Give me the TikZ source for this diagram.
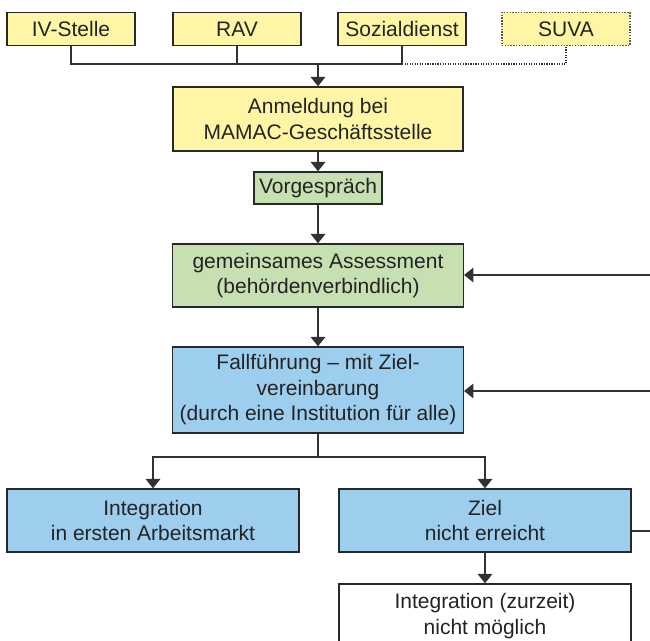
\documentclass[tikz,border=0pt]{standalone}
\usepackage{fontspec}
\setmainfont{Liberation Sans}
\usetikzlibrary{arrows.meta}

\tikzset{
  box/.style={draw={rgb, 255:red, 40; green, 40; blue, 40 }, line width=1.1pt, inner sep=0pt, align=center,
    text={rgb, 255:red, 35; green, 35; blue, 35 }, font=\fontsize{15.75}{19.1}\selectfont},
  yellowbox/.style={box, fill={rgb, 255:red, 255; green, 246; blue, 165 }},
  greenbox/.style={box, fill={rgb, 255:red, 198; green, 224; blue, 178 }},
  bluebox/.style={box, fill={rgb, 255:red, 158; green, 206; blue, 238 }},
  conn/.style={draw={rgb, 255:red, 50; green, 50; blue, 50 }, line width=0.9pt},
  arr/.style={conn, -{Triangle[width=11pt,length=7pt]}},
}

\begin{document}
\begin{tikzpicture}[x=0.75pt,y=0.75pt,yscale=-1,xscale=1]
\path [use as bounding box, clip] (0,0) rectangle (650,641);

% Text Node
\draw (71,29) node [yellowbox, minimum width=96pt, minimum height=24.75pt] (ivs) {IV-Stelle};
% Text Node
\draw (237,29) node [yellowbox, minimum width=96pt, minimum height=24.75pt] (rav) {RAV};
% Text Node
\draw (402,29) node [yellowbox, minimum width=96pt, minimum height=24.75pt] (soz) {Sozialdienst};
% Text Node
\draw (566,29) node [yellowbox, minimum width=96pt, minimum height=24.75pt, densely dotted, line width=0.8pt, draw={rgb, 255:red, 90; green, 90; blue, 90 }] (suva) {SUVA};
% Text Node
\draw (318,119) node [yellowbox, minimum width=217.5pt, minimum height=48pt] (anm) {Anmeldung bei\\MAMAC-Geschäftsstelle};
% Text Node
\draw (318,188) node [greenbox, minimum width=96pt, minimum height=24pt] (vor) {Vorgespräch};
% Text Node
\draw (318,275.5) node [greenbox, minimum width=218pt, minimum height=47.25pt] (ass) {gemeinsames Assessment\\(behördenverbindlich)};
% Text Node
\draw (318,390) node [bluebox, minimum width=218pt, minimum height=64.5pt] (fall) {Fallführung – mit Ziel-\\vereinbarung\\(durch eine Institution für alle)};
% Text Node
\draw (153,520.5) node [bluebox, minimum width=219pt, minimum height=47.25pt] (intg) {Integration\\in ersten Arbeitsmarkt};
% Text Node
\draw (485,520.5) node [bluebox, minimum width=219pt, minimum height=47.25pt] (ziel) {Ziel\\nicht erreicht};
% Text Node
\draw (485,616) node [box, fill=white, minimum width=219pt, minimum height=48pt] (nmog) {Integration (zurzeit)\\nicht möglich};

\coordinate (bus) at (318,64);
\coordinate (branch) at (318,457);
\coordinate (fbass) at (650,275);
\coordinate (fbfall) at (650,391);
\coordinate (zout) at (650,531);

%Connectors
\draw [conn] (ivs.south) |- (soz.south |- bus) -- (soz.south);
\draw [conn] (rav.south) -- (rav.south |- bus);
\draw [conn, densely dotted, line width=0.8pt] (soz.south |- bus) -| (suva.south);
\draw [arr] (bus) -- (anm.north);
\draw [arr] (anm.south) -- (vor.north);
\draw [arr] (vor.south) -- (ass.north);
\draw [arr] (ass.south) -- (fall.north);
\draw [conn] (fall.south) -- (branch);
\draw [arr] (branch) -| (intg.north);
\draw [arr] (branch) -| (ziel.north);
\draw [arr] (ziel.south) -- (nmog.north);
\draw [arr] (fbass) -- (ass.east |- fbass);
\draw [arr] (fbfall) -- (fall.east |- fbfall);
\draw [conn] (ziel.east |- zout) -- (zout);

\end{tikzpicture}
\end{document}
